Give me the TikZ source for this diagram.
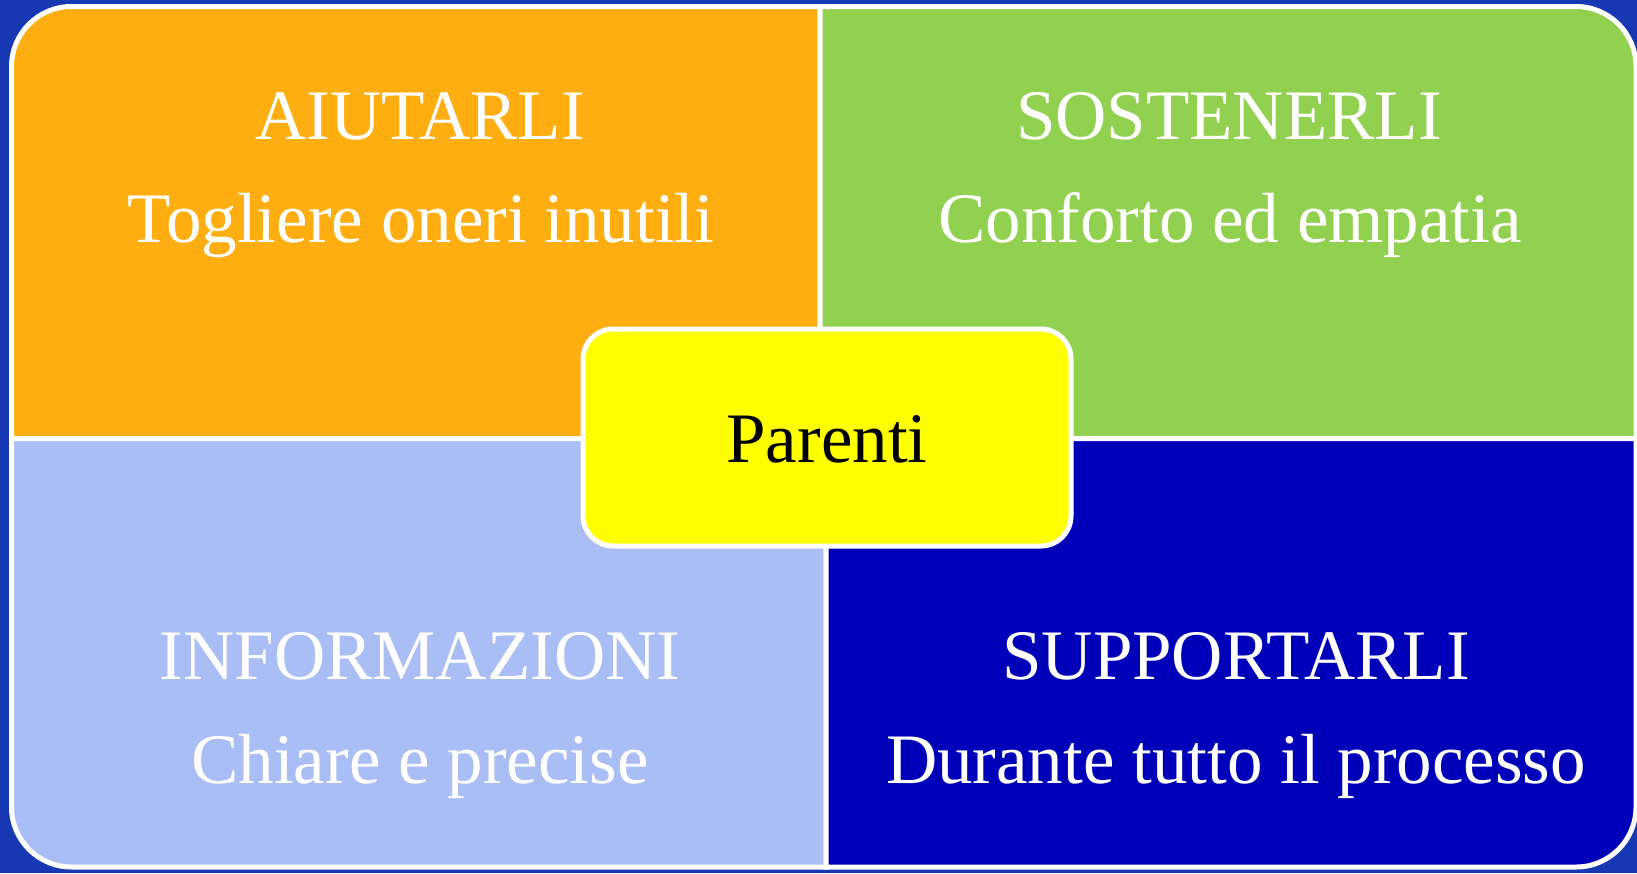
\documentclass[tikz,border=0pt]{standalone}
\usepackage{fontspec}
\setmainfont{Liberation Serif}
\definecolor{bgblue}{HTML}{1639B3}
\definecolor{qorange}{HTML}{FEAE10}
\definecolor{qgreen}{HTML}{92D050}
\definecolor{qlight}{HTML}{AABEF5}
\definecolor{qdark}{HTML}{0000B8}
\definecolor{qyellow}{HTML}{FFFF00}
\tikzset{
    quad/.style={draw=white, line width=5pt},
    label/.style={text=white, anchor=base, inner sep=0pt, font=\fontsize{71}{80}\selectfont},
}
\begin{document}
\begin{tikzpicture}[x=1pt, y=-1pt]
    % background
    \fill[bgblue] (0,0) rectangle (1637,873);
    \useasboundingbox (0,0) rectangle (1637,873);

    % four quadrants, each with one rounded outer corner
    \draw[quad, fill=qorange] (11.5,438.5) [rounded corners=60pt] -- (11.5,6.5) -- (400,6.5) [sharp corners] -- (820,6.5) -- (820,438.5) -- cycle;
    \draw[quad, fill=qgreen] (820,438.5) -- (820,6.5) [rounded corners=60pt] -- (1636,6.5) -- (1636,200) [sharp corners] -- (1636,438.5) -- cycle;
    \draw[quad, fill=qlight] (826,438.5) -- (11.5,438.5) [rounded corners=60pt] -- (11.5,867) -- (400,867) [sharp corners] -- (826,867) -- cycle;
    \draw[quad, fill=qdark] (826,438.5) -- (1636,438.5) [rounded corners=60pt] -- (1636,867) -- (1200,867) [sharp corners] -- (826,867) -- cycle;

    % texts
    \node[label] (aiutarli) at (420,139) {AIUTARLI};
    \node[label] (togliere) at (421,242) {Togliere oneri inutili};
    \node[label] (sostenerli) at (1229,139) {SOSTENERLI};
    \node[label] (conforto) at (1230,242) {Conforto ed empatia};
    \node[label] (informazioni) at (420,679) {INFORMAZIONI};
    \node[label] (chiare) at (420,783) {Chiare e precise};
    \node[label] (supportarli) at (1236,679) {SUPPORTARLI};
    \node[label] (durante) at (1236,783) {Durante tutto il processo};

    % centre box
    \draw[quad, fill=qyellow, rounded corners=30pt] (583,329) rectangle (1071,546);
    \node[label, text=black] (parenti) at (827,462) {Parenti};
\end{tikzpicture}
\end{document}
